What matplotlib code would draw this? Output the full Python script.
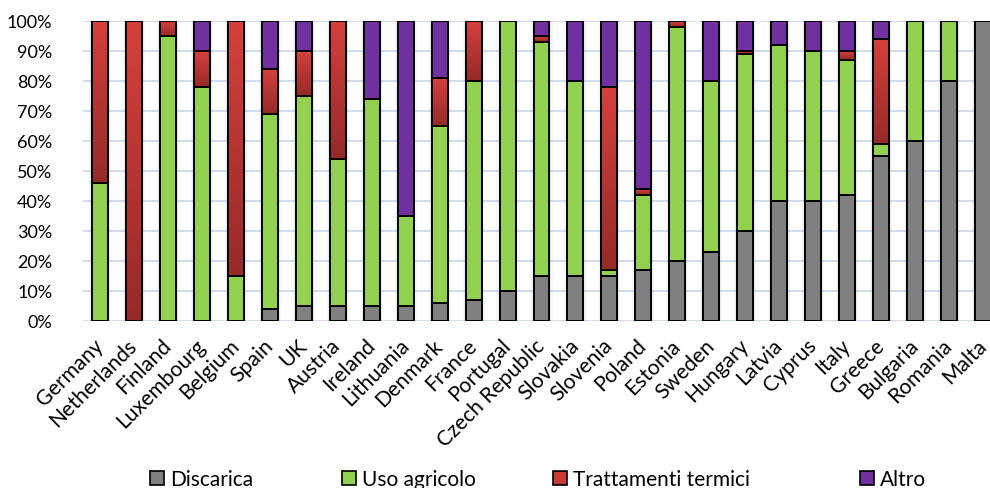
import numpy as np
import matplotlib
matplotlib.use("Agg")
import matplotlib.pyplot as plt
from matplotlib.patches import Patch
from matplotlib.colors import LinearSegmentedColormap
from matplotlib.ticker import FuncFormatter, MultipleLocator

countries = ["Germany", "Netherlands", "Finland", "Luxembourg", "Belgium", "Spain", "UK",
             "Austria", "Ireland", "Lithuania", "Denmark", "France", "Portugal",
             "Czech Republic", "Slovakia", "Slovenia", "Poland", "Estonia", "Sweden",
             "Hungary", "Latvia", "Cyprus", "Italy", "Greece", "Bulgaria", "Romania", "Malta"]

discarica = [0, 0, 0, 0, 0, 4, 5, 5, 5, 5, 6, 7, 10, 15, 15, 15, 17, 20, 23, 30, 40, 40, 42, 55, 60, 80, 100]
uso_agricolo = [46, 0, 95, 78, 15, 65, 70, 49, 69, 30, 59, 73, 90, 78, 65, 2, 25, 78, 57, 59, 52, 50, 45, 4, 40, 20, 0]
trattamenti = [54, 100, 5, 12, 85, 15, 15, 46, 0, 0, 16, 20, 0, 2, 0, 61, 2, 2, 0, 1, 0, 0, 3, 35, 0, 0, 0]
altro = [0, 0, 0, 10, 0, 16, 10, 0, 26, 65, 19, 0, 0, 5, 20, 22, 56, 0, 20, 10, 8, 10, 10, 6, 0, 0, 0]

series_names = ["Discarica", "Uso agricolo", "Trattamenti termici", "Altro"]
colors = ["#808080", "#92D050", "#C83A36", "#7030A0"]

plt.rcParams["font.family"] = ["Lato", "DejaVu Sans"]

W, H = 990, 489
fig = plt.figure(figsize=(W / 100, H / 100), dpi=100)
left_px, right_px, top_px, bot_px = 83, 1000, 22, 322
ax = fig.add_axes([left_px / W, 1 - bot_px / H, (right_px - left_px) / W, (bot_px - top_px) / H])

x = np.arange(len(countries))
width = 0.47

# soft halo behind each bar
for grow, alpha in [(0.18, 0.05), (0.11, 0.07), (0.05, 0.10)]:
    ax.bar(x, 100 + 0.8, width=width + grow, bottom=-0.8, color="#606060",
           alpha=alpha, linewidth=0, zorder=1)

red_cmap = LinearSegmentedColormap.from_list("red_grad", ["#962A29", "#D6403C"])
grad = np.linspace(0, 1, 256).reshape(-1, 1)

bottom = np.zeros(len(countries))
for name, vals, col in zip(series_names, [discarica, uso_agricolo, trattamenti, altro], colors):
    vals = np.asarray(vals, dtype=float)
    bars = ax.bar(x, vals, width=width, bottom=bottom, color=col, edgecolor="black",
                  linewidth=1.4, zorder=3)
    if name == "Trattamenti termici":
        for b, v in zip(bars, vals):
            if v <= 0:
                continue
            bx, by = b.get_x(), b.get_y()
            im = ax.imshow(grad, cmap=red_cmap, origin="lower", aspect="auto",
                           extent=[bx, bx + b.get_width(), by, by + v], zorder=3.5)
            im.set_clip_path(b)
            # redraw outline on top of the gradient
            ax.bar(b.get_x() + b.get_width() / 2, v, width=b.get_width(), bottom=by,
                   facecolor="none", edgecolor="black", linewidth=1.4, zorder=4)
    bottom += vals

ax.set_xlim(-0.5, len(countries) - 0.5)
ax.set_ylim(0, 100)
ax.yaxis.set_major_locator(MultipleLocator(10))
ax.yaxis.set_major_formatter(FuncFormatter(lambda v, p: f"{int(round(v))}%"))
ax.grid(axis="y", color="#ccdaee", linewidth=1.3, zorder=0)
ax.set_axisbelow(True)
for s in ax.spines.values():
    s.set_visible(False)
ax.tick_params(axis="both", length=0, colors="black")
ax.tick_params(axis="y", labelsize=13, pad=22)
ax.set_xticks(x)
ax.set_xticklabels(countries, rotation=45, ha="right", va="center",
                   rotation_mode="anchor", fontsize=15.2)
ax.tick_params(axis="x", pad=15)

# legend entries placed individually along the bottom
legend_x_px = [150, 342, 553, 860]
for h_col, name, lx in zip(colors, series_names, legend_x_px):
    handle = Patch(facecolor=h_col, edgecolor="black", linewidth=1.2)
    fig.legend([handle], [name], loc="center left", bbox_to_anchor=(lx / W, 1 - 480 / H),
               frameon=False, fontsize=15, handlelength=0.65, handleheight=0.65,
               handletextpad=0.3, borderpad=0, borderaxespad=0)

fig.savefig("out.png", dpi=100)
